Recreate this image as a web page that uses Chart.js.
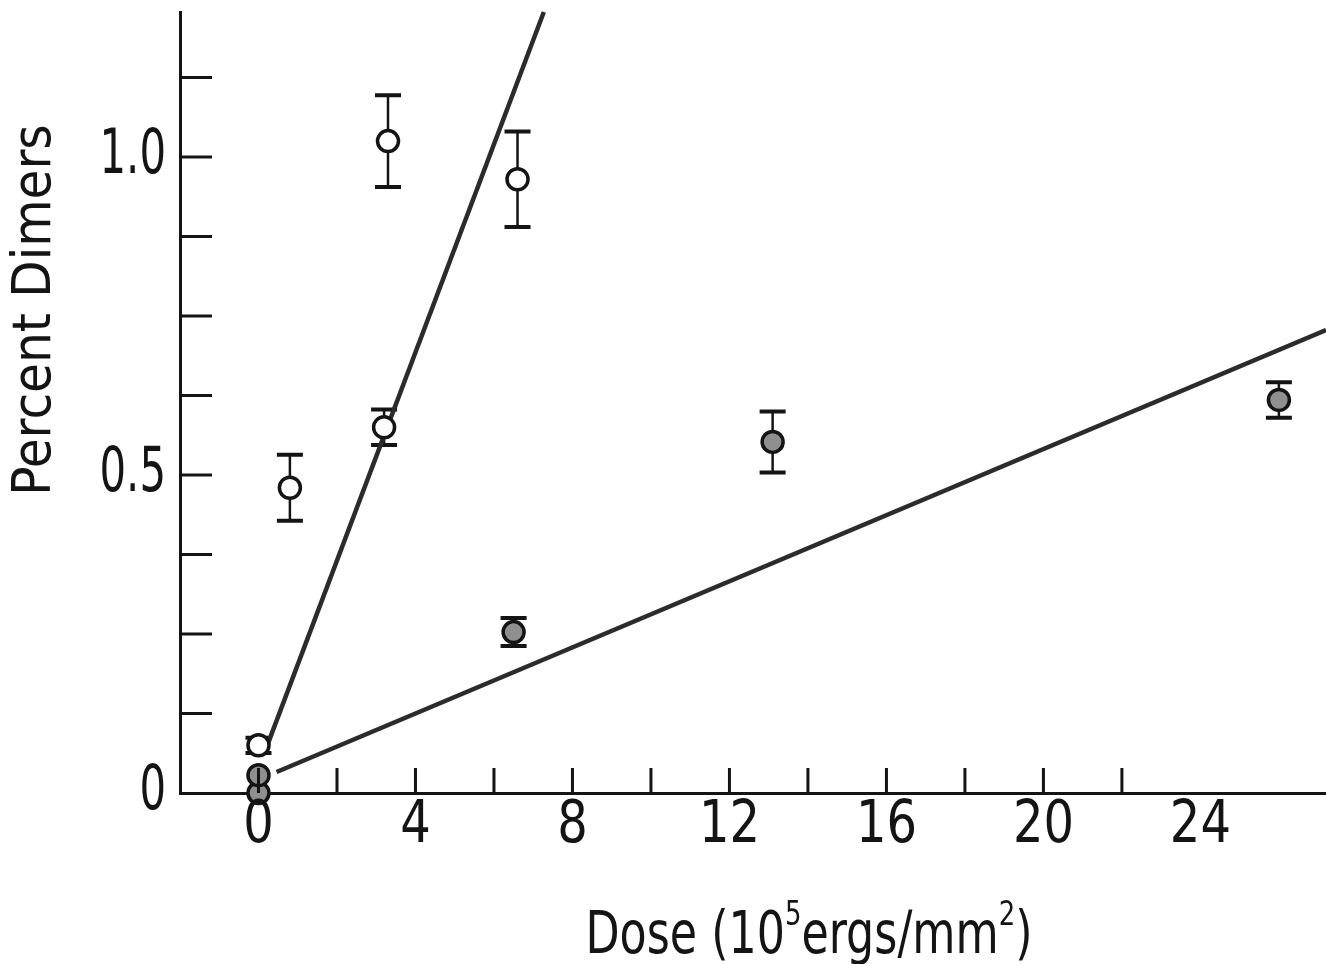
<!DOCTYPE html>
<html lang="en">
<head>
<meta charset="UTF-8">
<title>Percent Dimers vs Dose</title>
<style>
  html, body { margin: 0; padding: 0; background: #fff; }
</style>
</head>
<body>
<canvas id="dimerChart" width="1326" height="964"></canvas>
<script src="https://cdn.jsdelivr.net/npm/chart.js"></script>
<script>
// measured points, open circles (steep series)
const openDose = [0, 0.8, 3.2, 3.3, 6.6];
const openPct = [0.075, 0.48, 0.575, 1.025, 0.965];
const openErr = [0.012, 0.052, 0.028, 0.072, 0.075];

// measured points, filled circles (shallow series)
const filledDose = [0, 0, 6.5, 13.1, 26.0];
const filledPct = [0.0, 0.028, 0.253, 0.552, 0.618];
const filledErr = [0, 0, 0.022, 0.048, 0.028];

// fitted lines, end points
const steepDose = [0.2, 7.27];
const steepPct = [0.071, 1.228];
const shallowDose = [0.46, 27.2];
const shallowPct = [0.033, 0.728];

// axes
const xMin = -2, xMax = 27.2;
const yMin = 0, yMax = 1.228;
const xTickMarks = [0, 2, 4, 6, 8, 10, 12, 14, 16, 18, 20, 22];
const xTickLabels = [0, 4, 8, 12, 16, 20, 24];
const yTickMarks = [0.125, 0.25, 0.375, 0.5, 0.625, 0.75, 0.875, 1.0, 1.125];
const yTickValues = [0, 0.5, 1.0];
const yTickLabels = ['0', '0.5', '1.0'];

const INK = '#141414';
const FONT = '"Liberation Sans Narrow", "DejaVu Sans Condensed", sans-serif';

const toXY = (xs, ys) => xs.map((v, i) => ({ x: v, y: ys[i] }));

// text squeezed horizontally, the lettering on this plot is narrow
function narrowText(ctx, text, px, py, squeeze) {
  ctx.save();
  ctx.translate(px, py);
  ctx.scale(squeeze, 1);
  ctx.fillText(text, 0, 0);
  ctx.restore();
}

// vertical error bars with flat caps, drawn under the markers
const errorBars = {
  id: 'errorBars',
  beforeDatasetsDraw(chart) {
    const { ctx, scales: { x, y } } = chart;
    const sets = [[openDose, openPct, openErr], [filledDose, filledPct, filledErr]];
    ctx.save();
    ctx.strokeStyle = INK;
    sets.forEach(([xs, ys, es]) => {
      xs.forEach((v, i) => {
        if (!es[i]) return;
        const px = x.getPixelForValue(v);
        const top = y.getPixelForValue(ys[i] + es[i]);
        const bot = y.getPixelForValue(ys[i] - es[i]);
        ctx.lineWidth = 2.5;
        ctx.beginPath();
        ctx.moveTo(px, top); ctx.lineTo(px, bot);
        ctx.stroke();
        ctx.lineWidth = 4;
        ctx.beginPath();
        ctx.moveTo(px - 13, top); ctx.lineTo(px + 13, top);
        ctx.moveTo(px - 13, bot); ctx.lineTo(px + 13, bot);
        ctx.stroke();
      });
    });
    ctx.restore();
  }
};

// inward tick marks, tick labels and axis titles
const axisDecor = {
  id: 'axisDecor',
  afterDraw(chart) {
    const { ctx, chartArea: a, scales: { x, y } } = chart;
    ctx.save();
    ctx.strokeStyle = INK;
    ctx.lineWidth = 3;
    ctx.beginPath();
    xTickMarks.forEach(v => {
      const px = x.getPixelForValue(v);
      ctx.moveTo(px, a.bottom); ctx.lineTo(px, a.bottom - 25);
    });
    yTickMarks.forEach(v => {
      const py = y.getPixelForValue(v);
      ctx.moveTo(a.left, py); ctx.lineTo(a.left + 32, py);
    });
    ctx.stroke();

    ctx.fillStyle = INK;
    ctx.font = '58px ' + FONT;
    ctx.textAlign = 'center';
    ctx.textBaseline = 'alphabetic';
    xTickLabels.forEach(v => {
      narrowText(ctx, String(v), x.getPixelForValue(v), a.bottom + 49, 0.92);
    });

    ctx.font = '62px ' + FONT;
    ctx.textAlign = 'right';
    ctx.textBaseline = 'middle';
    yTickValues.forEach((v, i) => {
      narrowText(ctx, yTickLabels[i], a.left - 14, y.getPixelForValue(v), 0.75);
    });

    // y title
    ctx.save();
    ctx.translate(50, 310);
    ctx.rotate(-Math.PI / 2);
    ctx.textAlign = 'center';
    ctx.textBaseline = 'alphabetic';
    ctx.font = '54px ' + FONT;
    ctx.fillText('Percent Dimers', 0, 0);
    ctx.restore();

    // x title with superscripts
    const parts = [
      ['Dose (10', false], ['5', true], ['ergs/mm', false], ['2', true], [')', false]
    ];
    const big = '58px ' + FONT, small = '34px ' + FONT;
    const squeeze = 0.85;
    let total = 0;
    parts.forEach(([t, sup]) => { ctx.font = sup ? small : big; total += ctx.measureText(t).width * squeeze; });
    let cx = 809 - total / 2;
    const base = 953;
    ctx.textAlign = 'left';
    ctx.textBaseline = 'alphabetic';
    parts.forEach(([t, sup]) => {
      ctx.font = sup ? small : big;
      narrowText(ctx, t, cx, sup ? base - 28 : base, squeeze);
      cx += ctx.measureText(t).width * squeeze;
    });
    ctx.restore();
  }
};

const lineStyle = {
  type: 'line',
  borderColor: '#2b2b2b',
  borderWidth: 4.5,
  pointRadius: 0,
  fill: false,
  clip: false
};

new Chart(document.getElementById('dimerChart'), {
  type: 'scatter',
  data: {
    datasets: [
      {
        label: 'open',
        data: toXY(openDose, openPct),
        pointRadius: 10.5,
        pointBorderWidth: 3.5,
        pointBorderColor: INK,
        pointBackgroundColor: '#ffffff',
        clip: false
      },
      {
        label: 'filled',
        data: toXY(filledDose, filledPct),
        pointRadius: 10.5,
        pointBorderWidth: 3.5,
        pointBorderColor: INK,
        pointBackgroundColor: '#8f8f8f',
        clip: false
      },
      Object.assign({ label: 'steep fit', data: toXY(steepDose, steepPct) }, lineStyle),
      Object.assign({ label: 'shallow fit', data: toXY(shallowDose, shallowPct) }, lineStyle)
    ]
  },
  options: {
    responsive: false,
    animation: false,
    layout: { autoPadding: false, padding: { left: 180, top: 12, right: 0, bottom: 171 } },
    plugins: { legend: { display: false }, tooltip: { enabled: false } },
    scales: {
      x: {
        type: 'linear', min: xMin, max: xMax,
        ticks: { display: false },
        grid: { display: false, drawTicks: false },
        border: { display: true, color: INK, width: 3 }
      },
      y: {
        type: 'linear', min: yMin, max: yMax,
        ticks: { display: false },
        grid: { display: false, drawTicks: false },
        border: { display: true, color: INK, width: 3 }
      }
    }
  },
  plugins: [errorBars, axisDecor]
});
</script>
</body>
</html>
